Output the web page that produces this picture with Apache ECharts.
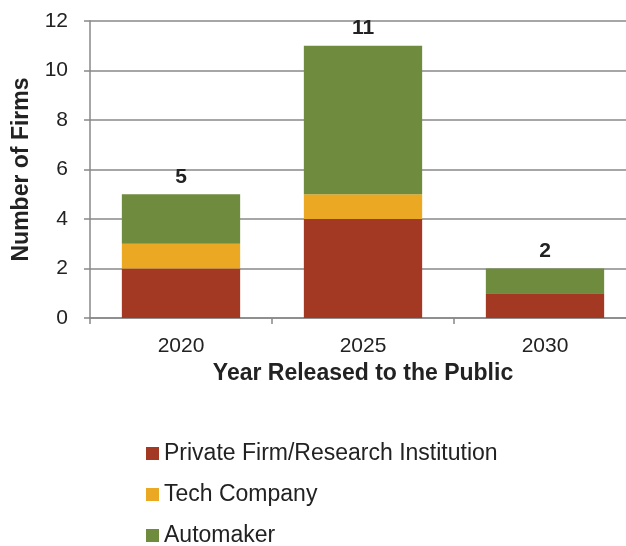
<!DOCTYPE html>
<html><head><meta charset="utf-8">
<script src="https://cdn.jsdelivr.net/npm/echarts@6/dist/echarts.min.js"></script>
<style>html,body{margin:0;padding:0;background:#fff;overflow:hidden;width:626px;height:546px}#c{width:640px;height:546px}</style>
</head><body><div id="c"></div>
<script>
const categories = ['2020', '2025', '2030'];
const privateFirm = [2, 4, 1];
const techCompany = [1, 1, 0];
const automaker = [2, 6, 1];
const totals = [5, 11, 2];
const yTicks = [0, 2, 4, 6, 8, 10, 12];

const chart = echarts.init(document.getElementById('c'));
const font = 'Liberation Sans, Arial, sans-serif';
chart.setOption({
  animation: false,
  textStyle: { fontFamily: font },
  grid: { left: 90, right: 4, top: 21, height: 297, containLabel: false },
  xAxis: {
    type: 'category', data: categories,
    name: 'Year Released to the Public', nameLocation: 'middle', nameGap: 39,
    nameTextStyle: { fontFamily: font, fontSize: 23, fontWeight: 'bold', color: '#222' },
    axisLine: { lineStyle: { color: '#888', width: 1.5 } },
    axisTick: { show: true, length: 6, lineStyle: { color: '#888', width: 1.5 } },
    axisLabel: { fontFamily: font, fontSize: 21, color: '#222', margin: 18 }
  },
  yAxis: {
    type: 'value', min: 0, max: 12, interval: 2,
    name: 'Number of Firms', nameLocation: 'middle', nameGap: 57, nameRotate: 90,
    nameTextStyle: { fontFamily: font, fontSize: 23, fontWeight: 'bold', color: '#222' },
    axisLine: { show: true, lineStyle: { color: '#888', width: 1.5 } },
    axisTick: { show: true, length: 6, lineStyle: { color: '#888', width: 1.5 } },
    axisLabel: { fontFamily: font, fontSize: 21, color: '#222', margin: 22,
      formatter: v => yTicks.includes(v) ? String(v) : '' },
    splitLine: { lineStyle: { color: '#888', width: 1.5 } }
  },
  legend: {
    orient: 'vertical', left: 141, top: 437, height: 140, itemWidth: 13, itemHeight: 13, itemGap: 18,
    icon: 'rect', itemTextGap: 5,
    textStyle: { fontFamily: font, fontSize: 23, color: '#222' },
    data: ['Private Firm/Research Institution', 'Tech Company', 'Automaker']
  },
  series: [
    { name: 'Private Firm/Research Institution', type: 'bar', stack: 's', data: privateFirm,
      barWidth: '65%', itemStyle: { color: '#A33823' } },
    { name: 'Tech Company', type: 'bar', stack: 's', data: techCompany,
      itemStyle: { color: '#EAA823' } },
    { name: 'Automaker', type: 'bar', stack: 's', data: automaker,
      itemStyle: { color: '#6F8B3E' },
      label: { show: true, position: 'top', distance: 7, fontFamily: font, fontSize: 21, fontWeight: 'bold',
        color: '#222', formatter: p => String(totals[p.dataIndex]) } }
  ]
});
</script></body></html>
